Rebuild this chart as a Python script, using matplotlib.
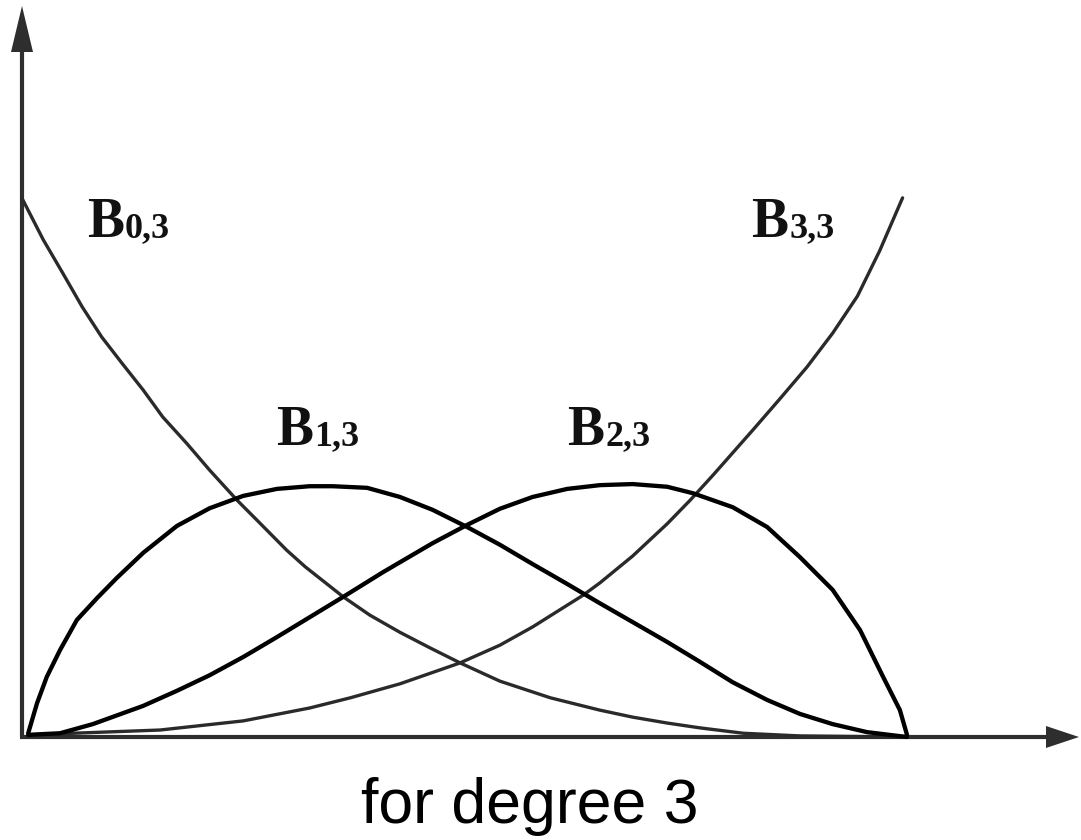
import matplotlib
matplotlib.use("Agg")
import matplotlib.pyplot as plt

# ---- data (t in [0,1], value normalised so B0,3(0) ~ 1) ----
b0_t = [0.001, 0.024, 0.046, 0.068, 0.090, 0.113, 0.137, 0.159, 0.186, 0.212, 0.243, 0.269, 0.299,
        0.320, 0.363, 0.393, 0.427, 0.461, 0.495, 0.540, 0.597, 0.653, 0.690, 0.729, 0.766, 0.815,
        0.879, 1.0]
b0_y = [1.000, 0.926, 0.864, 0.801, 0.745, 0.696, 0.646, 0.596, 0.547, 0.497, 0.441, 0.398, 0.348,
        0.317, 0.261, 0.227, 0.195, 0.166, 0.138, 0.104, 0.073, 0.050, 0.037, 0.026, 0.017, 0.007,
        0.002, 0.0]

b1_t = [0.007, 0.017, 0.028, 0.043, 0.062, 0.085, 0.107, 0.137, 0.175, 0.212, 0.250, 0.288, 0.325,
        0.351, 0.390, 0.427, 0.464, 0.503, 0.540, 0.577, 0.616, 0.653, 0.690, 0.729, 0.766, 0.803,
        0.842, 0.879, 0.916, 0.955, 1.0]
b1_y = [0.007, 0.063, 0.112, 0.162, 0.218, 0.259, 0.296, 0.343, 0.393, 0.426, 0.449, 0.462, 0.467,
        0.467, 0.464, 0.447, 0.423, 0.391, 0.358, 0.322, 0.285, 0.249, 0.214, 0.177, 0.140, 0.102,
        0.069, 0.043, 0.024, 0.009, 0.0]

b2_t = [0.007, 0.043, 0.080, 0.137, 0.175, 0.212, 0.250, 0.288, 0.325, 0.363, 0.408, 0.464, 0.503,
        0.540, 0.577, 0.616, 0.653, 0.690, 0.729, 0.758, 0.803, 0.842, 0.879, 0.916, 0.947, 0.973,
        0.992, 1.0]
b2_y = [0.004, 0.007, 0.024, 0.058, 0.086, 0.115, 0.149, 0.186, 0.223, 0.261, 0.307, 0.361, 0.395,
        0.425, 0.447, 0.462, 0.469, 0.471, 0.466, 0.454, 0.428, 0.391, 0.335, 0.274, 0.199, 0.112,
        0.050, 0.004]

b3_t = [0.009, 0.156, 0.250, 0.325, 0.371, 0.427, 0.495, 0.540, 0.577, 0.634, 0.653, 0.690, 0.729,
        0.755, 0.781, 0.826, 0.856, 0.887, 0.916, 0.944, 0.969, 0.995]
b3_y = [0.004, 0.013, 0.030, 0.054, 0.073, 0.099, 0.138, 0.171, 0.205, 0.264, 0.287, 0.337, 0.397,
        0.441, 0.488, 0.572, 0.629, 0.689, 0.752, 0.821, 0.905, 1.004]

labels = ["0,3", "1,3", "2,3", "3,3"]
caption = "for degree 3"

# ---- layout (pixel mapping) ----
W, H = 1081, 840
X0, SX = 22, 885      # pixel x of t=0, pixels per unit t
Y0, SY = 737, 537     # pixel y of value 0, pixels per unit value


def px(x, y):
    return (x - X0) / SX, (Y0 - y) / SY


fig = plt.figure(figsize=(W / 100, H / 100), dpi=100)
ax = fig.add_axes([0, 0, 1, 1])
ax.set_xlim(-X0 / SX, (W - X0) / SX)
ax.set_ylim((Y0 - H) / SY, Y0 / SY)
ax.axis("off")

axis_col = "#2e2e2e"
# axes lines
ax.plot([px(20, 737)[0], px(1050, 737)[0]], [0, 0], color=axis_col, lw=3.0, solid_capstyle="butt")
ax.plot([0, 0], [0, px(22, 45)[1]], color=axis_col, lw=3.0, solid_capstyle="butt")
# arrow heads
hx = [px(1079, 737), px(1046, 726), px(1046, 748)]
ax.fill([p[0] for p in hx], [p[1] for p in hx], color=axis_col, lw=0)
hy = [px(22, 6), px(11, 52), px(33, 52)]
ax.fill([p[0] for p in hy], [p[1] for p in hy], color=axis_col, lw=0)

# curves
ax.plot(b0_t, b0_y, color="#2a2a2a", lw=2.4, solid_joinstyle="round", solid_capstyle="round")
ax.plot(b3_t, b3_y, color="#2a2a2a", lw=2.4, solid_joinstyle="round", solid_capstyle="round")
ax.plot(b1_t, b1_y, color="#000000", lw=3.1, solid_joinstyle="round", solid_capstyle="round")
ax.plot(b2_t, b2_y, color="#000000", lw=3.1, solid_joinstyle="round", solid_capstyle="round")

# labels
serif = ["Liberation Serif", "DejaVu Serif"]
lab_pos = [(87, 237), (276, 445), (567, 445), (751, 237)]
for (lx, ly), sub in zip(lab_pos, labels):
    bx, by = px(lx, ly)
    ax.text(bx, by, "B", family=serif, fontweight="bold", fontsize=40,
            ha="left", va="baseline", color="#111111")
    sx_, sy_ = px(lx + 38, ly)
    ax.text(sx_, sy_, sub, family=serif, fontweight="bold", fontsize=26,
            ha="left", va="baseline", color="#111111")

cx, cy = px(530, 823)
ax.text(cx, cy, caption, family=["Liberation Sans", "DejaVu Sans"], fontsize=45,
        ha="center", va="baseline", color="black")

fig.savefig("out.png", dpi=100)
